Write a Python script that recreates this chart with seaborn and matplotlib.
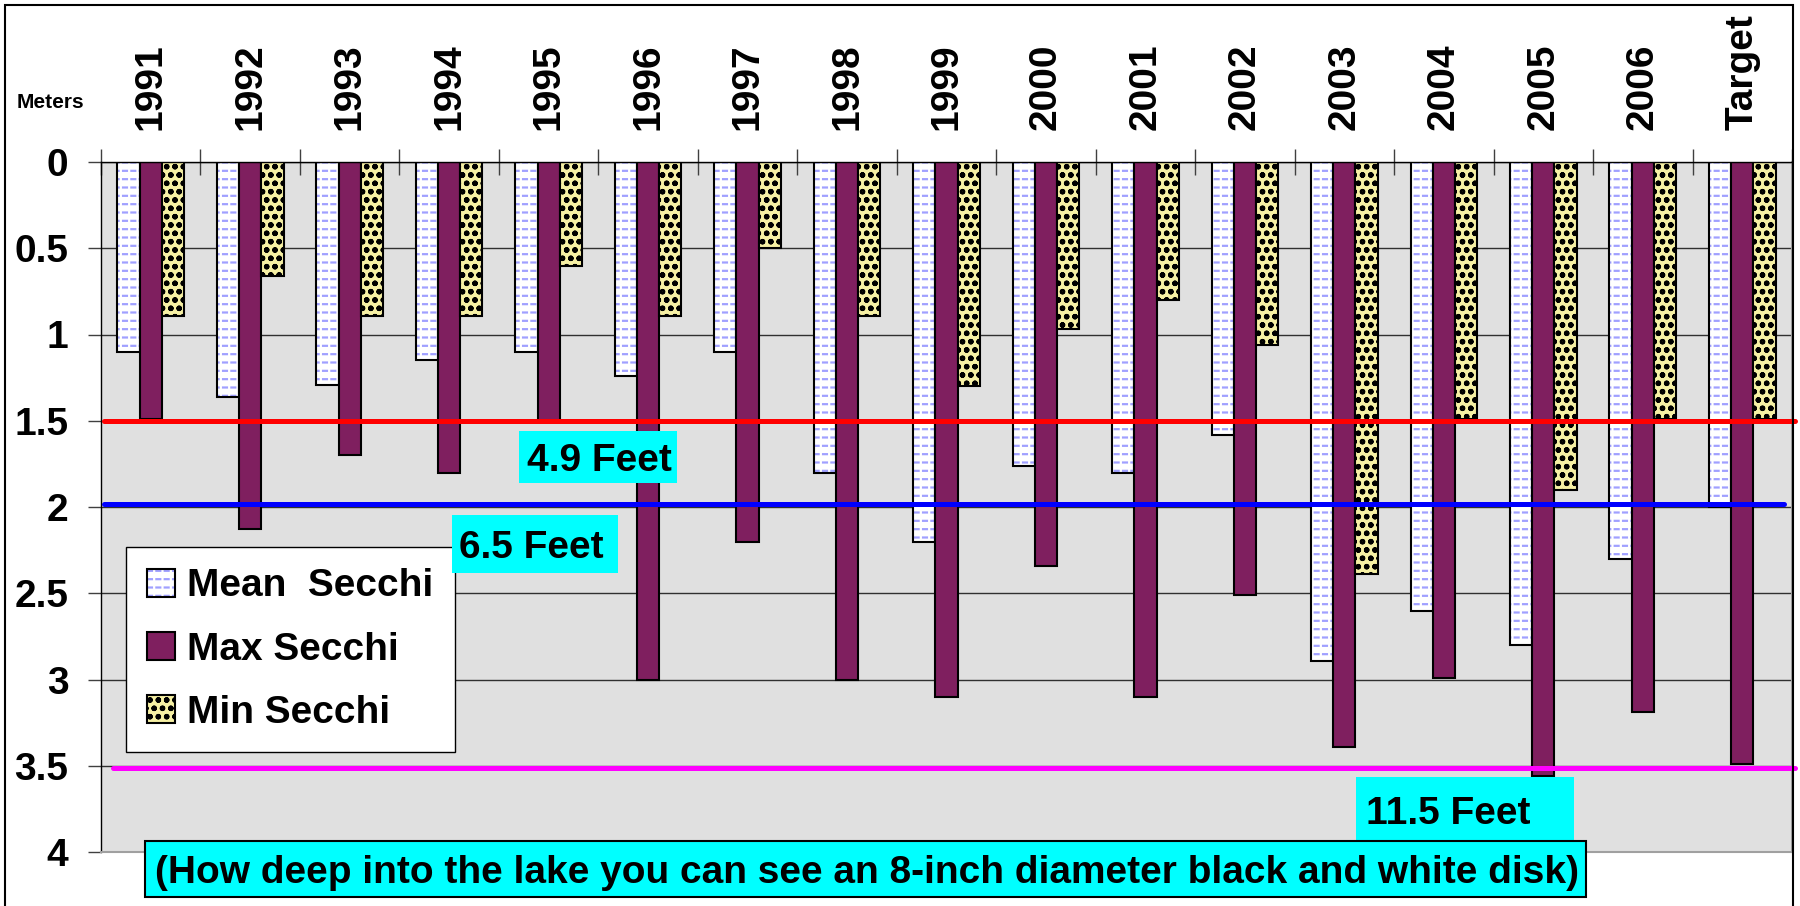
import numpy as np
import pandas as pd
import seaborn as sns
import matplotlib.pyplot as plt
from matplotlib.patches import Patch, Rectangle
from matplotlib.legend_handler import HandlerTuple

plt.rcParams['font.family'] = ['Liberation Sans', 'DejaVu Sans']
plt.rcParams['font.weight'] = 'bold'
plt.rcParams['hatch.linewidth'] = 1.6

# Secchi depth (meters)
years = ['1991', '1992', '1993', '1994', '1995', '1996', '1997', '1998', '1999',
         '2000', '2001', '2002', '2003', '2004', '2005', '2006', 'Target']
mean_secchi = [1.10, 1.36, 1.29, 1.15, 1.10, 1.24, 1.10, 1.80, 2.20,
               1.76, 1.80, 1.58, 2.89, 2.60, 2.80, 2.30, 2.00]
max_secchi = [1.49, 2.13, 1.70, 1.80, 1.50, 3.00, 2.20, 3.00, 3.10,
              2.34, 3.10, 2.51, 3.39, 2.99, 3.56, 3.19, 3.49]
min_secchi = [0.89, 0.66, 0.89, 0.89, 0.60, 0.89, 0.50, 0.89, 1.30,
              0.97, 0.80, 1.06, 2.39, 1.49, 1.90, 1.49, 1.49]
series = ['Mean  Secchi', 'Max Secchi', 'Min Secchi']

ref_depths = [1.50, 1.98, 3.515]
ref_labels = ['4.9 Feet', '6.5 Feet', '11.5 Feet']

purple = '#7f1f5f'
yellow = '#f6f0a4'
dash_blue = '#a0a0ff'
min_hatch = 'oo'

df = pd.DataFrame({
    'Year': years * 3,
    'Series': np.repeat(series, len(years)),
    'Depth': mean_secchi + max_secchi + min_secchi,
})

fig = plt.figure(figsize=(18, 9.06), dpi=100)
ax = fig.add_axes([101/1800, 1 - 852/906, 1691/1800, 690/906])
ax.set_facecolor('#e0e0e0')

sns.barplot(data=df, x='Year', y='Depth', hue='Series', hue_order=series,
            palette={series[0]: 'white', series[1]: purple, series[2]: yellow},
            width=0.67, saturation=1, edgecolor='black', linewidth=1.5,
            legend=False, ax=ax, zorder=2)

# mean bars: short blue dashes under a black outline
for p in ax.containers[0]:
    ax.add_patch(Rectangle(p.get_xy(), p.get_width(), p.get_height(),
                           facecolor='white', edgecolor=dash_blue, lw=0,
                           hatch='--', zorder=1.8))
    ax.add_patch(Rectangle(p.get_xy(), p.get_width(), p.get_height(),
                           facecolor='none', edgecolor='white', lw=0,
                           hatch='||', zorder=1.9))
    p.set_facecolor('none')
for p in ax.containers[2]:
    p.set_hatch(min_hatch)

ax.set_xlim(-0.5, len(years) - 0.5)
ax.set_ylim(4, 0)
ax.set_xlabel('')
ax.set_ylabel('')

ax.xaxis.tick_top()
ax.set_xticks(np.arange(-0.5, len(years), 1), labels=[])
ax.set_xticks(np.arange(len(years)), labels=years, minor=True, rotation=90)
ax.tick_params(axis='x', which='major', top=True, bottom=False, direction='inout',
               length=19, width=1, color='#404040', labeltop=False, labelbottom=False)
ax.tick_params(axis='x', which='minor', top=True, bottom=False, length=0, pad=23,
               labelsize=28, labeltop=True, labelbottom=False)

yt = np.arange(0, 4.01, 0.5)
ax.set_yticks(yt, labels=['%g' % v for v in yt])
ax.tick_params(axis='y', direction='out', length=9.4, width=1, pad=14,
               labelsize=28, color='#404040')
ax.yaxis.grid(True, color='#303030', lw=1)
ax.set_axisbelow(True)

for s in ['top', 'left']:
    ax.spines[s].set_color('black')
    ax.spines[s].set_linewidth(1)
for s in ['right', 'bottom']:
    ax.spines[s].set_color('#a0a0a0')
    ax.spines[s].set_linewidth(1.5)

# reference depth lines
ax.axhline(ref_depths[0], xmin=0.002, xmax=1.002, color='red', lw=3.6,
           solid_capstyle='round', clip_on=False, zorder=5)
ax.axhline(ref_depths[1], xmin=0.002, xmax=0.995, color='#0000ff', lw=3.6,
           solid_capstyle='round', clip_on=False, zorder=5)
ax.axhline(ref_depths[2], xmin=0.007, xmax=1.002, color='#ff00ff', lw=3.6,
           solid_capstyle='round', clip_on=False, zorder=5)

# cyan label boxes (figure pixels)
boxes = [(519, 431, 677, 483, 527), (452, 515, 618, 573, 459), (1356, 777, 1574, 842, 1366)]
for (x0, y0, x1, y1, tx), lab in zip(boxes, ref_labels):
    fig.patches.append(Rectangle((x0/1800, 1 - y1/906), (x1 - x0)/1800, (y1 - y0)/906,
                                 transform=fig.transFigure, facecolor='#00ffff',
                                 edgecolor='none', zorder=4))
    fig.text(tx/1800, 1 - (y0 + y1)/2/906, lab, fontsize=28, ha='left', va='center_baseline', zorder=5)

fig.patches.append(Rectangle((145/1800, 1 - 897/906), 1441/1800, 56/906,
                             transform=fig.transFigure, facecolor='#00ffff',
                             edgecolor='black', lw=1.5, zorder=4))
fig.text(155/1800, 1 - 869/906,
         '(How deep into the lake you can see an 8-inch diameter black and white disk)',
         fontsize=28, ha='left', va='center_baseline', zorder=5)

fig.text(17/1800, 1 - 102/906, 'Meters', fontsize=15, ha='left', va='center')

# outer frame
fig.patches.append(Rectangle((5/1800, -0.01), 1788/1800, 1 - 5/906 + 0.01,
                             transform=fig.transFigure, fill=False,
                             edgecolor='black', lw=1.5, zorder=6))

handles = [
    (Patch(facecolor='white', edgecolor=dash_blue, lw=0, hatch='--'),
     Patch(facecolor='none', edgecolor='white', lw=0, hatch='||'),
     Patch(facecolor='none', edgecolor='black', lw=1.5)),
    Patch(facecolor=purple, edgecolor='black', lw=1.5),
    Patch(facecolor=yellow, edgecolor='black', lw=1.5, hatch=min_hatch),
]
leg = ax.legend(handles, series, handler_map={tuple: HandlerTuple(ndivide=1)},
                loc='upper left', bbox_to_anchor=(126/1800, 1 - 547/906),
                bbox_transform=fig.transFigure, borderaxespad=0, fontsize=28,
                handlelength=0.72, handleheight=0.72, handletextpad=0.3,
                labelspacing=0.7, borderpad=0.55, fancybox=False, framealpha=1,
                edgecolor='black')
leg.get_frame().set_linewidth(1)
leg.set_zorder(6)

fig.savefig('out.png', dpi=100)
